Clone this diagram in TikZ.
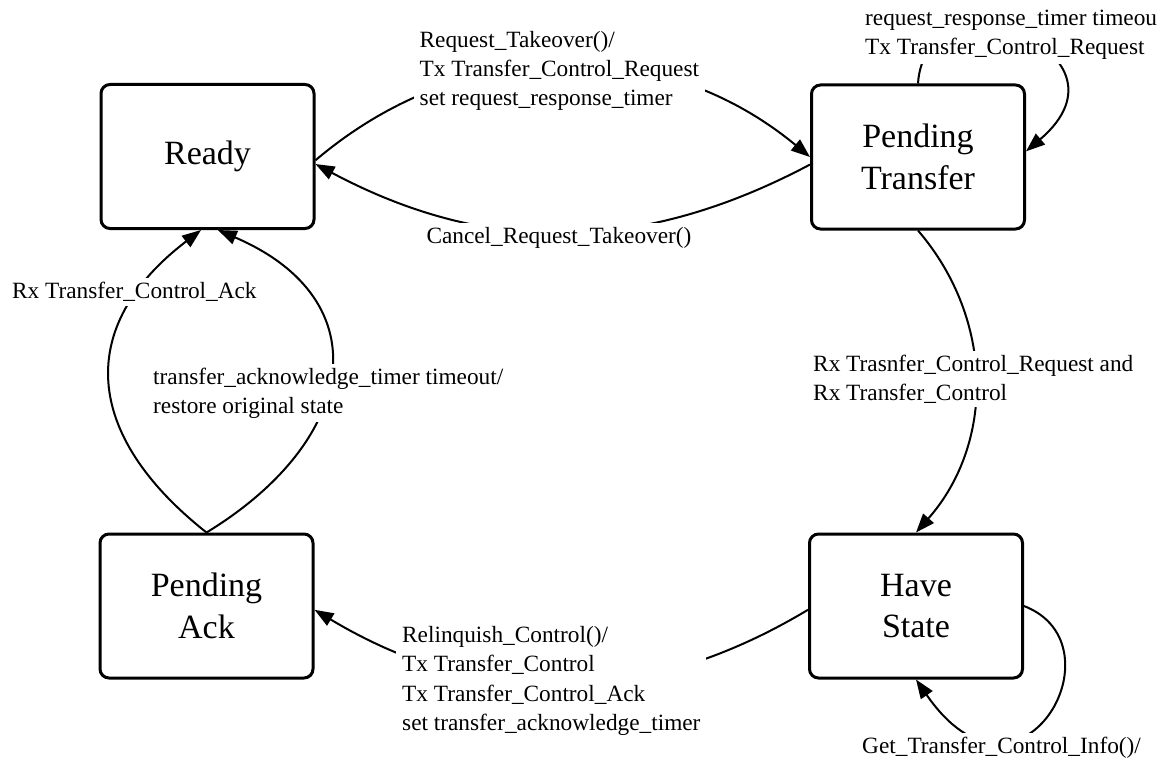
\documentclass[tikz,border=0pt]{standalone}
\usepackage{fontspec}
\setmainfont{Liberation Serif}
\usetikzlibrary{arrows.meta}
\begin{document}
\begin{tikzpicture}[x=1pt,y=1pt,
  state/.style={draw, line width=3pt, rounded corners=9pt,
    minimum width=213pt, minimum height=144pt, align=center,
    font=\fontsize{34}{41.5}\selectfont, inner sep=0pt},
  edge/.style={line width=2pt, -{Triangle[length=19pt,width=14pt]}},
  lbl/.style={fill=white, align=left, anchor=west, inner xsep=6pt,
    inner ysep=4pt, font=\fontsize{23.3}{29.3}\selectfont}
]
\useasboundingbox (0,0) rectangle (1167,-765);

% states
\node[state] (ready) at (207.5,-156.5) {Ready};
\node[state] (pt)    at (918,-157)     {Pending\\Transfer};
\node[state] (pa)    at (206.5,-606)   {Pending\\Ack};
\node[state] (hs)    at (916,-606)     {Have\\State};

% transitions
\draw[edge] (ready.-2) to[bend left=40] (pt.west);
\draw[edge] (pt.184) to[bend left=28] (ready.-4);
\draw[edge] (hs.182) to[bend left=31] (pa.-2);
\draw[edge] (pt.south) to[bend left=41] (hs.north);
\draw[edge] (pa.north) .. controls (82.5,-434.4) and (75.4,-326) .. (ready.-95);
\draw[edge] (pa.north) .. controls (357.8,-440.4) and (381.4,-300.2) .. (ready.-82);
\draw[edge] (pt.north) .. controls (925,30) and (1145,-50) .. (pt.3);
\draw[edge] (hs.east) .. controls (1125,-645) and (1020,-830) .. (hs.south);

% transition labels
\node[lbl] (lreq) at (413.5,-71)
  {Request\_Takeover()/\\Tx Transfer\_Control\_Request\\set request\_response\_timer};
\node[lbl] (lcan) at (420.3,-237.6) {Cancel\_Request\_Takeover()};
\node[lbl] (lrel) at (396,-681)
  {Relinquish\_Control()/\\Tx Transfer\_Control\\Tx Transfer\_Control\_Ack\\set transfer\_acknowledge\_timer};
\node[lbl] (lget) at (856,-748) {Get\_Transfer\_Control\_Info()/};
\node[lbl] (lrx) at (807,-379)
  {Rx Trasnfer\_Control\_Request and\\Rx Transfer\_Control};
\node[lbl] (lself) at (859,-35)
  {request\_response\_timer timeou\\Tx Transfer\_Control\_Request};
\node[lbl] (lack) at (6,-292) {Rx Transfer\_Control\_Ack};
\node[lbl] (ltmo) at (147,-393)
  {transfer\_acknowledge\_timer timeout/\\restore original state};
\end{tikzpicture}
\end{document}
